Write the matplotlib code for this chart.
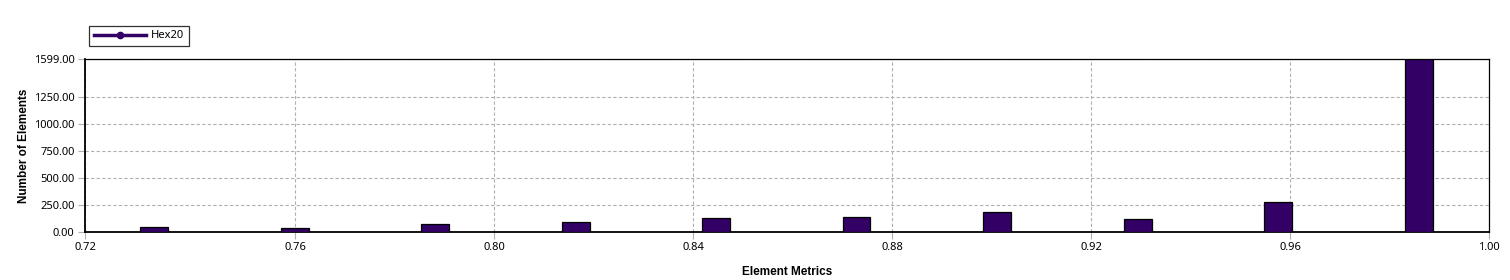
import matplotlib
matplotlib.use("Agg")
import matplotlib.pyplot as plt
from matplotlib.lines import Line2D

plt.rcParams["font.family"] = ["Noto Sans", "DejaVu Sans"]

# Element quality histogram (Hex20)
x_min = 0.7177
x_max = 1.00
bin_centers = [0.7315, 0.7599, 0.7881, 0.8164, 0.8446, 0.8728, 0.9010, 0.9293, 0.9575, 0.9859]
counts = [42, 33, 75, 90, 128, 137, 184, 116, 274, 1599]
x_ticks = [x_min, 0.76, 0.80, 0.84, 0.88, 0.92, 0.96, 1.00]
y_ticks = [0, 250, 500, 750, 1000, 1250, 1599]
series_name = "Hex20"

BAR_COLOR = "#330066"
GRID = "#b0b0b0"
LABEL_FONT = dict(family="Liberation Sans", fontsize=8.5, fontweight="bold")

fig = plt.figure(figsize=(15.1, 2.8), dpi=100)
ax = fig.add_axes([0.0563, 0.1725, 0.93, 0.6155])

ax.bar(bin_centers, counts, width=0.0056, color=BAR_COLOR, edgecolor="black", linewidth=0.9, zorder=3)

ax.set_xlim(x_min, x_max)
ax.set_ylim(0, 1599)
ax.set_xticks(x_ticks)
ax.set_xticklabels([f"{t:.2f}" for t in x_ticks])
ax.set_yticks(y_ticks)
ax.set_yticklabels([f"{t:.2f}" for t in y_ticks])
ax.tick_params(axis="both", labelsize=8, color=GRID, length=5, width=0.8, pad=2.5)

ax.grid(True, color=GRID, linestyle=(0, (3, 2)), linewidth=0.8, zorder=0)
for s in ["left", "bottom"]:
    ax.spines[s].set_linewidth(1.3)
for s in ["top", "right"]:
    ax.spines[s].set_linewidth(0.9)

ax.set_xlabel("Element Metrics", labelpad=9, **LABEL_FONT)
ax.set_ylabel("Number of Elements", **LABEL_FONT)
ax.yaxis.set_label_coords(-0.039, 0.5)

handle = Line2D([0], [0], color=BAR_COLOR, linewidth=2.5, marker="o", markersize=4.5)
leg = fig.legend([handle], [series_name], loc="upper left", bbox_to_anchor=(0.059, 0.907),
                 fontsize=8, frameon=True, fancybox=False, edgecolor="black",
                 handlelength=4.7, borderpad=0.4, handletextpad=0.5, borderaxespad=0.0)
leg.get_frame().set_linewidth(0.9)

fig.savefig("out.png", dpi=100)
